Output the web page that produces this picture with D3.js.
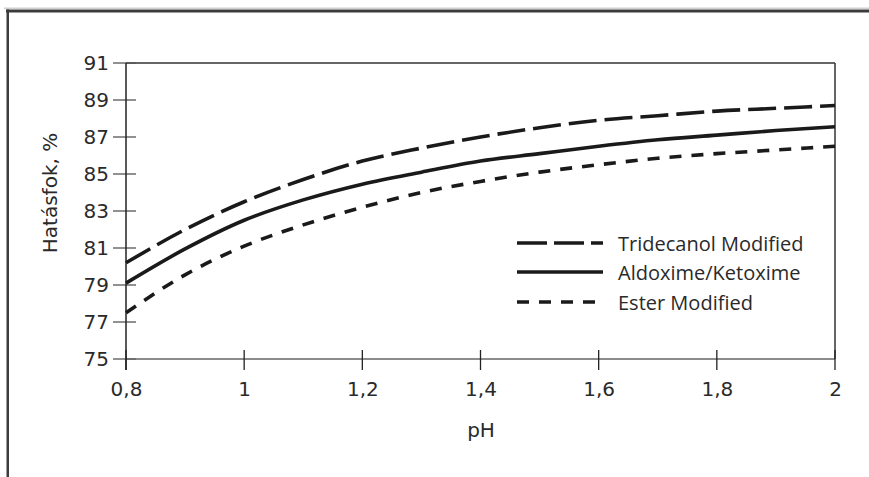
<!DOCTYPE html>
<html><head><meta charset="utf-8">
<script src="https://cdn.jsdelivr.net/npm/d3@7/dist/d3.min.js"></script>
<style>
html,body{margin:0;padding:0;background:#fff;}
svg text{fill:#2a2a2a;}
.lab{font-family:"DejaVu Sans",sans-serif;}
.leg{font-family:"Open Sans","Noto Sans",sans-serif;}
</style></head>
<body>
<svg id="chart" width="869" height="477"></svg>
<script>
const phValues = [0.8,0.9,1.0,1.1,1.2,1.3,1.4,1.5,1.6,1.7,1.8,1.9,2.0];
const tridecanol = [80.2,82.0,83.5,84.7,85.7,86.4,87.0,87.5,87.9,88.15,88.4,88.55,88.7];
const aldoxime   = [79.1,80.95,82.5,83.6,84.45,85.1,85.7,86.1,86.5,86.85,87.1,87.35,87.55];
const ester      = [77.5,79.55,81.1,82.25,83.2,84.0,84.6,85.1,85.5,85.85,86.1,86.3,86.5];
const seriesNames = ["Tridecanol Modified","Aldoxime/Ketoxime","Ester Modified"];
const xTicks = [0.8,1,1.2,1.4,1.6,1.8,2];
const xTickLabels = ["0,8","1","1,2","1,4","1,6","1,8","2"];
const yTicks = [75,77,79,81,83,85,87,89,91];
const xTitle = "pH";
const yTitle = "Hatásfok, %";

const FS = 20;
const svg = d3.select("#chart");
// outer frame
svg.append("rect").attr("x",4).attr("y",7.5).attr("width",865).attr("height",1.5).attr("fill","#cfcfcf");
svg.append("rect").attr("x",6).attr("y",9.5).attr("width",863).attr("height",3).attr("fill","#3c3c3c");
svg.append("rect").attr("x",6.5).attr("y",9.5).attr("width",2.5).attr("height",470).attr("fill","#3c3c3c");

const L=126, R=835, T=63, B=359;
const x = d3.scaleLinear().domain([0.8,2]).range([L,R]);
const y = d3.scaleLinear().domain([75,91]).range([B,T]);

// plot border top & right
svg.append("line").attr("x1",L).attr("x2",R).attr("y1",T).attr("y2",T).attr("stroke","#333").attr("stroke-width",1.5);
svg.append("line").attr("x1",R).attr("x2",R).attr("y1",T).attr("y2",B).attr("stroke","#333").attr("stroke-width",1.5);

// y axis
const yAxis = d3.axisLeft(y).tickValues(yTicks).tickSizeInner(0).tickSizeOuter(0).tickPadding(17);
const gy = svg.append("g").attr("transform",`translate(${L},0)`).call(yAxis);
gy.attr("font-family",null).attr("font-size",null);
gy.select(".domain").remove();
gy.selectAll(".tick line").remove();
gy.selectAll(".tick text").attr("class","lab").attr("font-size",FS).attr("fill","#2a2a2a");
svg.selectAll(".ytick").data(yTicks).enter().append("line")
  .attr("x1",L-13).attr("x2",L+10).attr("y1",d=>y(d)).attr("y2",d=>y(d))
  .attr("stroke","#555").attr("stroke-width",1.3);

// x axis
const xAxis = d3.axisBottom(x).tickValues(xTicks).tickFormat((d,i)=>xTickLabels[i]).tickSizeInner(0).tickSizeOuter(0).tickPadding(23);
const gx = svg.append("g").attr("transform",`translate(0,${B})`).call(xAxis);
gx.attr("font-family",null).attr("font-size",null);
gx.select(".domain").remove();
gx.selectAll(".tick line").remove();
gx.selectAll(".tick text").attr("class","lab").attr("font-size",FS).attr("fill","#2a2a2a");
svg.append("line").attr("x1",L).attr("x2",R).attr("y1",B).attr("y2",B).attr("stroke","#666").attr("stroke-width",1.6);
svg.selectAll(".xtick").data(xTicks).enter().append("line")
  .attr("x1",d=>x(d)).attr("x2",d=>x(d)).attr("y1",B-9).attr("y2",B+11)
  .attr("stroke","#222").attr("stroke-width",1.3);
// y axis line
svg.append("line").attr("x1",L).attr("x2",L).attr("y1",T).attr("y2",B+11).attr("stroke","#222").attr("stroke-width",1.5);

// titles
svg.append("text").attr("class","lab").attr("x",481).attr("y",437).attr("text-anchor","middle").attr("font-size",FS).text(xTitle);
svg.append("text").attr("class","lab").attr("transform",`translate(57,193) rotate(-90)`).attr("text-anchor","middle").attr("font-size",FS).text(yTitle);

// lines
const series = [
  {name:seriesNames[0], vals:tridecanol, dash:"28,8", legDash:"30,7"},
  {name:seriesNames[1], vals:aldoxime, dash:null, legDash:null},
  {name:seriesNames[2], vals:ester, dash:"12,10", legDash:"12,10"}
];
const line = d3.line().x(d=>x(d[0])).y(d=>y(d[1])).curve(d3.curveMonotoneX);
series.forEach(s=>{
  svg.append("path").datum(phValues.map((p,i)=>[p,s.vals[i]]))
    .attr("d",line).attr("fill","none").attr("stroke","#1a1a1a").attr("stroke-width",3.6)
    .attr("stroke-dasharray",s.dash);
});

// legend
const legY=[243,272,302];
series.forEach((s,i)=>{
  svg.append("line").attr("x1",517).attr("x2",603).attr("y1",legY[i]).attr("y2",legY[i])
    .attr("stroke","#1a1a1a").attr("stroke-width",3.6).attr("stroke-dasharray",s.legDash);
  svg.append("text").attr("class","leg").attr("x",618).attr("y",legY[i]+7.5).attr("font-size",FS).text(s.name);
});
</script>
</body></html>
